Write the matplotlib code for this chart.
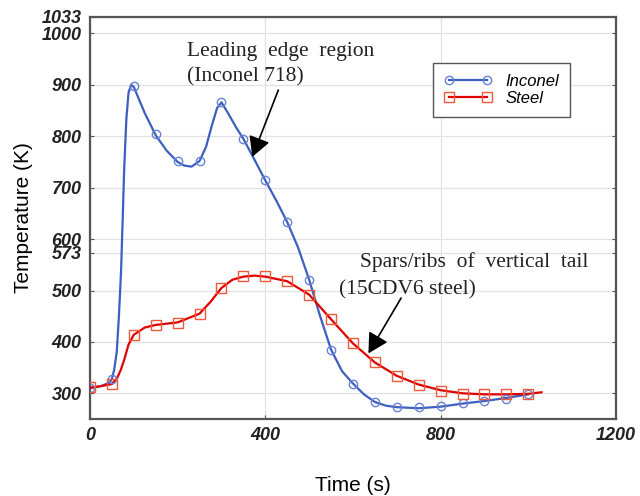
import numpy as np
import matplotlib.pyplot as plt

# marker samples (every 50 s)
t_mark = [0, 50, 100, 150, 200, 250, 300, 350, 400, 450, 500,
          550, 600, 650, 700, 750, 800, 850, 900, 950, 1000]
inconel_mark = [310, 328, 897, 804, 752, 752, 867, 795, 714, 633, 521,
                385, 319, 283, 273, 273, 275, 281, 285, 289, 298]
steel_mark = [312, 318, 414, 432, 437, 455, 505, 528, 528, 518, 492,
              444, 397, 360, 334, 316, 305, 299, 298, 298, 299]

# smooth curves
t_inc = [0, 25, 45, 50, 55, 61, 66, 71, 75, 78, 83, 88, 94, 100, 125, 150,
         175, 200, 215, 232, 250, 265, 278, 290, 300, 315, 335, 350, 375,
         400, 425, 450, 475, 500, 525, 550, 575, 600, 625, 650, 675, 700,
         750, 800, 850, 900, 950, 1000]
T_inc = [310, 314, 321, 328, 345, 380, 450, 540, 650, 736, 834, 885, 900,
         896, 845, 802, 772, 750, 743, 741, 752, 780, 821, 855, 866, 845,
         815, 795, 755, 714, 675, 633, 583, 521, 450, 385, 343, 319, 298,
         283, 276, 273, 271, 274, 280, 285, 291, 298]
t_stl = [0, 25, 50, 62, 70, 78, 88, 100, 125, 150, 200, 250, 275, 300,
         325, 350, 375, 400, 450, 500, 550, 600, 650, 700, 750, 800, 850,
         900, 950, 1000, 1030]
T_stl = [311, 314, 318, 330, 345, 365, 395, 414, 428, 433, 438, 455, 478,
         505, 521, 527, 529, 527, 518, 492, 444, 397, 360, 334, 317, 306,
         300, 298, 298, 299, 302]

y_ticks = [300, 400, 500, 573, 600, 700, 800, 900, 1000, 1033]
x_ticks = [0, 400, 800, 1200]

fig = plt.figure(figsize=(6.4, 4.96), dpi=100)
ax = fig.add_axes([0.1406, 0.1552, 0.8219, 0.8115])

blue = '#3d5fbf'
red = '#e00000'
ax.plot(t_inc, T_inc, color=blue, lw=1.6, zorder=3)
ax.plot(t_stl, T_stl, color=red, lw=1.6, zorder=3)
ax.plot(t_mark, inconel_mark, ls='none', marker='o', ms=6, mfc='none',
        mec='#6a82d4', mew=1.0, zorder=4)
ax.plot(t_mark, steel_mark, ls='none', marker='s', ms=6.5, mfc='none',
        mec='#f05a3c', mew=1.0, zorder=4)

# legend proxies
h1, = ax.plot([], [], color=blue, lw=1.6, marker='o', ms=6, mfc='none',
              mec='#6a82d4', label='Inconel')
h2, = ax.plot([], [], color=red, lw=1.6, marker='s', ms=6.5, mfc='none',
              mec='#f05a3c', label='Steel')
leg = ax.legend(handles=[h1, h2], loc='upper left',
                bbox_to_anchor=(0.652, 0.884), numpoints=2, fancybox=False,
                framealpha=1, edgecolor='#555555', handlelength=2.9,
                handletextpad=0.8, borderpad=0.65, labelspacing=0.1,
                borderaxespad=0.0,
                prop={'style': 'italic', 'size': 12, 'family': 'Liberation Sans'})
leg.get_frame().set_linewidth(1.0)

ax.set_xlim(0, 1200)
ax.set_ylim(250, 1033)
ax.set_xticks(x_ticks)
ax.set_yticks(y_ticks)
ax.grid(True, color='#e2e2e2', lw=0.9)
ax.set_axisbelow(True)
ax.tick_params(direction='in', length=3, color='#555555', right=True, top=False,
               labelsize=13, labelcolor='#222222', pad=6)
for lab in ax.get_xticklabels() + ax.get_yticklabels():
    lab.set_fontstyle('italic')
    lab.set_fontweight('bold')
    lab.set_fontfamily('Liberation Sans')
for s in ax.spines.values():
    s.set_color('#555555')
    s.set_linewidth(1.6)

ax.set_xlabel('Time (s)', fontsize=15, family='Liberation Sans', va='center')
ax.xaxis.set_label_coords(0.5, -0.166)
ax.set_ylabel('Temperature (K)', fontsize=15, family='Liberation Sans', labelpad=6)

serif = dict(family='Liberation Serif', fontsize=15.5, color='#222222')
ax.text(0.184, 0.912, 'Leading  edge  region', transform=ax.transAxes,
        va='center', ha='left', **serif)
ax.text(0.184, 0.850, '(Inconel 718)', transform=ax.transAxes,
        va='center', ha='left', **serif)
ax.text(0.513, 0.39, 'Spars/ribs  of  vertical  tail', transform=ax.transAxes,
        va='center', ha='left', **serif)
ax.text(0.473, 0.320, '(15CDV6 steel)', transform=ax.transAxes,
        va='center', ha='left', **serif)

arrow = dict(arrowstyle='-|>,head_length=0.55,head_width=0.3', color='black',
             lw=1.2, mutation_scale=22)
ax.annotate('', xy=(368, 755), xytext=(432, 895), arrowprops=arrow)
ax.annotate('', xy=(632, 373), xytext=(713, 490), arrowprops=arrow)

fig.savefig('out.png', dpi=100, facecolor='white')
